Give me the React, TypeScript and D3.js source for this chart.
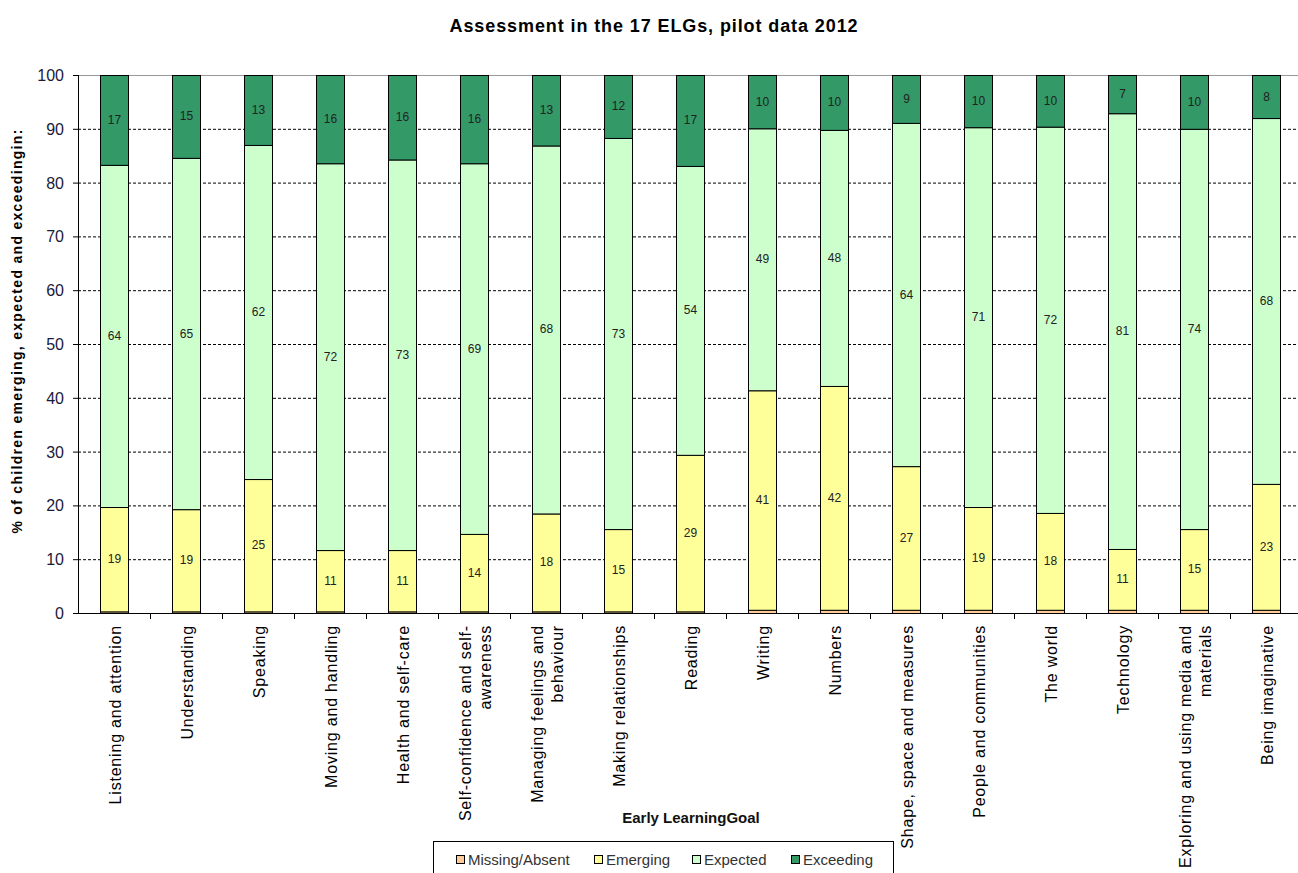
import React from "react";
import * as d3 from "d3";

const categories: string[][] = [
  ["Listening and attention"],
  ["Understanding"],
  ["Speaking"],
  ["Moving and handling"],
  ["Health and self-care"],
  ["Self-confidence and self-", "awareness"],
  ["Managing feelings and", "behaviour"],
  ["Making relationships"],
  ["Reading"],
  ["Writing"],
  ["Numbers"],
  ["Shape, space and measures"],
  ["People and communities"],
  ["The world"],
  ["Technology"],
  ["Exploring and using media and", "materials"],
  ["Being imaginative"],
];

const missing = [0.3, 0.3, 0.3, 0.3, 0.3, 0.3, 0.3, 0.3, 0.3, 0.6, 0.6, 0.6, 0.6, 0.6, 0.6, 0.6, 0.6];
const emerging = [19.4, 19.0, 24.6, 11.4, 11.4, 14.4, 18.2, 15.3, 29.1, 40.8, 41.6, 26.7, 19.1, 18.0, 11.3, 15.0, 23.4];
const expected = [63.6, 65.3, 62.1, 71.9, 72.6, 68.9, 68.4, 72.7, 53.7, 48.7, 47.6, 63.8, 70.6, 71.8, 81.0, 74.4, 68.0];
const exceeding = [16.7, 15.4, 13.0, 16.4, 15.7, 16.4, 13.1, 11.7, 16.9, 9.9, 10.2, 8.9, 9.7, 9.6, 7.1, 10.0, 8.0];

const seriesNames = ["Missing/Absent", "Emerging", "Expected", "Exceeding"];
const seriesColors = ["#FFCC99", "#FFFF99", "#CCFFCC", "#339966"];
const labelled = [false, true, true, true];
const yTicks = [0, 10, 20, 30, 40, 50, 60, 70, 80, 90, 100];

const W = 1298;
const H = 873;
const left = 78;
const top = 75;
const bottom = 613;
const step = 72;

export default function App() {
  const keys = categories.map((c) => c.join(" "));
  const x = d3
    .scaleBand<string>()
    .domain(keys)
    .range([left, left + step * keys.length])
    .paddingInner(44 / 72)
    .paddingOuter(22 / 72);
  const y = d3.scaleLinear().domain([0, 100]).range([bottom, top]);

  const rows = keys.map((k, i) => ({
    key: k,
    s0: missing[i],
    s1: emerging[i],
    s2: expected[i],
    s3: exceeding[i],
  }));
  const stack = d3.stack<any>().keys(["s0", "s1", "s2", "s3"])(rows);

  const font = "Arial, 'Liberation Sans', sans-serif";
  const bw = x.bandwidth();

  return (
    <svg
      width={W}
      height={H}
      style={{ position: "absolute", left: 0, top: 0, background: "#fff" }}
      fontFamily={font}
    >
      <rect x={0} y={0} width={W} height={H} fill="#fff" />
      <text x={654} y={32} textAnchor="middle" fontSize={18} fontWeight="bold" letterSpacing={0.9} fill="#000">
        Assessment in the 17 ELGs, pilot data 2012
      </text>

      {/* gridlines */}
      {yTicks.filter((t) => t > 0 && t < 100).map((t) => (
        <line key={t} x1={left} x2={W} y1={y(t) + 0.5} y2={y(t) + 0.5} stroke="#000" strokeDasharray="3,2" strokeWidth={1} />
      ))}
      <line x1={left} x2={W} y1={y(100) + 0.5} y2={y(100) + 0.5} stroke="#999" strokeWidth={1} />

      {/* bars */}
      {stack.map((layer, si) =>
        layer.map((d, i) => {
          const x0 = x(keys[i])!;
          const y0 = y(d[1]);
          const h = y(d[0]) - y(d[1]);
          return (
            <g key={`${si}-${i}`}>
              <rect x={x0 + 0.5} y={y0 + 0.5} width={bw} height={Math.max(h, 0)} fill={seriesColors[si]} stroke="#000" strokeWidth={1} />
              {labelled[si] && (
                <text x={x0 + bw / 2 + 0.5} y={(y(d[0]) + y(d[1])) / 2 + 4} textAnchor="middle" fontSize={12} fill="#222">
                  {Math.round(d[1] - d[0])}
                </text>
              )}
            </g>
          );
        })
      )}

      {/* y axis */}
      <line x1={left + 0.5} x2={left + 0.5} y1={top} y2={bottom + 0.5} stroke="#000" />
      {yTicks.map((t) => (
        <g key={t}>
          <line x1={left - 5} x2={left} y1={y(t) + 0.5} y2={y(t) + 0.5} stroke="#000" />
          <text x={64} y={y(t) + 6} textAnchor="end" fontSize={16} fill="#1a1a3a">
            {t}
          </text>
        </g>
      ))}

      {/* x axis */}
      <line x1={left - 5} x2={W} y1={bottom + 0.5} y2={bottom + 0.5} stroke="#000" />
      {keys.map((k, i) => (
        <line key={k} x1={left + step * (i + 1) + 0.5} x2={left + step * (i + 1) + 0.5} y1={bottom} y2={bottom + 6} stroke="#000" />
      ))}
      {categories.map((lines, i) => {
        const cx = x(keys[i])! + bw / 2;
        const lh = 20;
        return (
          <text key={i} transform={`translate(${cx + 1},625) rotate(-90)`} textAnchor="end" fontSize={16} letterSpacing={0.8} fill="#000">
            {lines.map((ln, j) => (
              <tspan key={j} x={0} y={(j - (lines.length - 1) / 2) * lh + 6}>
                {ln}
              </tspan>
            ))}
          </text>
        );
      })}

      <text x={691} y={823} textAnchor="middle" fontSize={15} fontWeight="bold" fill="#111">
        Early LearningGoal
      </text>
      <text transform={`translate(22,331) rotate(-90)`} textAnchor="middle" fontSize={14} fontWeight="bold" letterSpacing={1.3} fill="#000">
        % of children emerging, expected and exceedingin:
      </text>

      {/* legend */}
      <rect x={433.5} y={841.5} width={460} height={40} fill="#fff" stroke="#000" />
      {seriesNames.map((n, i) => {
        const lx = [456, 594, 692, 791][i];
        return (
          <g key={n}>
            <rect x={lx + 0.5} y={855.5} width={8} height={8} fill={seriesColors[i]} stroke="#000" />
            <text x={lx + 12} y={865} fontSize={15} fill="#333">
              {n}
            </text>
          </g>
        );
      })}
    </svg>
  );
}
